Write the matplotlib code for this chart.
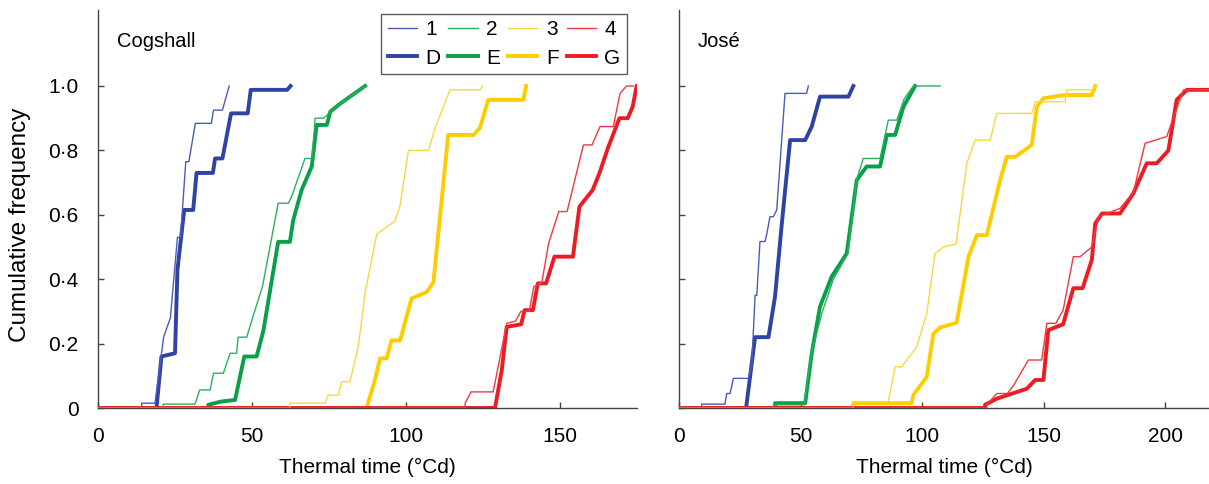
import matplotlib
matplotlib.use("Agg")
import matplotlib.pyplot as plt
from matplotlib.lines import Line2D

plt.rcParams['font.family'] = ['Liberation Sans', 'DejaVu Sans']

# Cogshall: thermal time (°Cd) breakpoints and cumulative frequency
cog_t1 = [0, 14.2, 14.2, 18.5, 21.3, 23.5, 25.8, 26.8, 28.5, 29.5, 31.6, 36.8, 37.5, 40.4, 42.6]
cog_f1 = [0, 0, 0.015, 0.015, 0.22, 0.28, 0.53, 0.53, 0.765, 0.765, 0.884, 0.884, 0.925, 0.925, 1.0]
cog_tD = [0, 19.0, 20.6, 25.0, 25.8, 28.0, 30.9, 32.0, 37.3, 38.0, 40.4, 43.2, 48.6, 49.6, 61.4, 62.5]
cog_fD = [0, 0, 0.16, 0.17, 0.43, 0.615, 0.615, 0.73, 0.73, 0.775, 0.775, 0.915, 0.915, 0.988, 0.988, 1.0]

cog_t2 = [0, 21.2, 21.2, 31.5, 33.0, 36.4, 37.5, 40.7, 42.9, 45.0, 45.5, 48.3, 50.5, 53.4, 58.5, 61.8,
          63.0, 67.2, 69.5, 70.5, 73.2, 78.6, 86.7]
cog_f2 = [0, 0, 0.012, 0.012, 0.056, 0.056, 0.108, 0.108, 0.17, 0.17, 0.22, 0.22, 0.29, 0.377, 0.636,
          0.636, 0.66, 0.775, 0.775, 0.9, 0.9, 0.945, 1.0]
cog_tE = [0, 35.8, 35.8, 40.0, 44.5, 47.5, 51.5, 53.7, 58.5, 62.3, 63.4, 66.1, 69.4, 71.0, 74.3, 75.4,
          78.6, 86.7]
cog_fE = [0, 0, 0.01, 0.02, 0.025, 0.16, 0.16, 0.24, 0.516, 0.516, 0.584, 0.677, 0.75, 0.879, 0.879,
          0.92, 0.945, 1.0]

cog_t3 = [0, 62.3, 62.3, 73.7, 74.8, 78.0, 79.1, 81.8, 84.5, 86.7, 90.5, 96.4, 98.1, 100.8, 107.3,
          109.4, 114.3, 124.0, 124.9]
cog_f3 = [0, 0, 0.015, 0.015, 0.04, 0.04, 0.082, 0.082, 0.19, 0.356, 0.54, 0.58, 0.63, 0.8, 0.8,
          0.869, 0.988, 0.988, 1.0]
cog_tF = [0, 87.2, 89.9, 91.6, 93.7, 95.3, 98.1, 101.8, 106.7, 108.9, 113.7, 121.9, 124.0, 126.7,
          138.1, 139.0]
cog_fF = [0, 0, 0.087, 0.154, 0.154, 0.21, 0.21, 0.34, 0.36, 0.39, 0.848, 0.848, 0.87, 0.957, 0.957, 1.0]

cog_t4 = [0, 119.2, 119.2, 121.1, 128.3, 132.7, 135.6, 137.3, 140.0, 141.5, 144.1, 146.3, 149.6, 152.3,
          157.6, 160.4, 163.0, 167.3, 169.5, 171.6, 173.8]
cog_f4 = [0, 0, 0.015, 0.05, 0.05, 0.263, 0.27, 0.3, 0.3, 0.377, 0.39, 0.511, 0.61, 0.61, 0.817,
          0.817, 0.874, 0.874, 0.977, 1.0, 1.0]
cog_tG = [0, 128.9, 131.1, 132.7, 137.4, 138.5, 141.2, 142.8, 145.5, 148.2, 154.2, 156.3, 160.6, 162.8,
          165.5, 169.3, 172.0, 173.6, 174.9]
cog_fG = [0, 0, 0.118, 0.252, 0.26, 0.304, 0.304, 0.387, 0.387, 0.47, 0.47, 0.625, 0.677, 0.729, 0.806,
          0.9, 0.9, 0.936, 1.0]

# José
jos_t1 = [0, 9.3, 9.3, 18.9, 19.6, 21.0, 22.4, 28.5, 29.9, 31.3, 32.0, 33.3, 35.4, 36.1, 37.4, 38.8,
          40.2, 43.6, 52.5, 53.2]
jos_f1 = [0, 0, 0.012, 0.012, 0.045, 0.045, 0.092, 0.092, 0.13, 0.35, 0.35, 0.517, 0.517, 0.54, 0.594,
          0.594, 0.615, 0.977, 0.977, 1.0]
jos_tD = [0, 27.6, 31.3, 36.8, 39.5, 42.3, 45.7, 51.9, 54.6, 58.0, 69.7, 71.7]
jos_fD = [0, 0, 0.22, 0.22, 0.346, 0.573, 0.832, 0.832, 0.874, 0.967, 0.967, 1.0]

jos_t2 = [0, 38.8, 38.8, 51.5, 54.4, 59.0, 63.5, 69.5, 73.1, 75.8, 82.7, 86.1, 89.6, 92.6, 96.4, 107.4]
jos_f2 = [0, 0, 0.01, 0.01, 0.17, 0.30, 0.40, 0.48, 0.71, 0.775, 0.775, 0.894, 0.894, 0.96, 1.0, 1.0]
jos_tE = [0, 39.5, 39.5, 51.9, 54.6, 58.0, 62.8, 69.0, 73.1, 77.2, 82.7, 85.5, 88.9, 92.3, 97.1]
jos_fE = [0, 0, 0.015, 0.015, 0.17, 0.315, 0.408, 0.48, 0.708, 0.75, 0.75, 0.848, 0.848, 0.935, 1.0]

jos_t3 = [0, 71.7, 71.7, 86.1, 88.9, 91.6, 97.8, 101.9, 105.3, 108.8, 114.0, 118.4, 121.8, 128.0,
          130.7, 145.1, 146.5, 158.8, 159.5, 169.8, 171.2]
jos_f3 = [0, 0, 0.02, 0.02, 0.128, 0.128, 0.19, 0.294, 0.48, 0.5, 0.51, 0.76, 0.832, 0.832, 0.915,
          0.915, 0.951, 0.951, 0.988, 0.988, 1.0]
jos_tF = [0, 71.7, 71.7, 95.7, 96.4, 101.9, 104.6, 107.4, 114.2, 119.1, 122.5, 126.6, 132.1, 134.8,
          138.3, 145.1, 147.2, 149.9, 158.8, 169.8, 171.2]
jos_fF = [0, 0, 0.015, 0.015, 0.04, 0.097, 0.23, 0.25, 0.265, 0.47, 0.537, 0.537, 0.708, 0.78, 0.78,
          0.817, 0.936, 0.962, 0.972, 0.972, 1.0]

jos_t4 = [0, 126.6, 126.6, 130.7, 135.0, 137.6, 143.7, 149.2, 151.3, 155.0, 158.0, 162.2, 165.0, 169.8,
          172.6, 181.4, 186.9, 191.7, 200.6, 207.5, 218.0]
jos_f4 = [0, 0, 0.01, 0.045, 0.045, 0.07, 0.149, 0.149, 0.263, 0.263, 0.304, 0.47, 0.47, 0.5, 0.594,
          0.62, 0.67, 0.822, 0.843, 0.988, 0.988]
jos_tG = [0, 125.9, 125.9, 130.7, 143.1, 146.5, 149.9, 151.9, 158.0, 162.2, 166.0, 169.8, 171.2, 174.0,
          181.4, 186.9, 192.4, 196.5, 201.3, 204.7, 208.9, 218.0]
jos_fG = [0, 0, 0.01, 0.029, 0.06, 0.087, 0.087, 0.242, 0.26, 0.372, 0.372, 0.46, 0.573, 0.604, 0.604,
          0.667, 0.76, 0.76, 0.8, 0.957, 0.988, 0.988]

colors = {'blue': '#2e43a3', 'green': '#0aa04a', 'yellow': '#ffcc00', 'red': '#ec1c24'}
thin_colors = {'blue': '#4a5bb8', 'green': '#2cb05e', 'yellow': '#f7d840', 'red': '#ee3a3f'}
thin_lw = 1.0
thick_lw = 2.8
fs = 15

y_ticks = [0, 0.2, 0.4, 0.6, 0.8, 1.0]
y_labels = ['0', '0·2', '0·4', '0·6', '0·8', '1·0']

cog_series = [(cog_t1, cog_f1, cog_tD, cog_fD, 'blue'),
              (cog_t2, cog_f2, cog_tE, cog_fE, 'green'),
              (cog_t3, cog_f3, cog_tF, cog_fF, 'yellow'),
              (cog_t4, cog_f4, cog_tG, cog_fG, 'red')]
jos_series = [(jos_t1, jos_f1, jos_tD, jos_fD, 'blue'),
              (jos_t2, jos_f2, jos_tE, jos_fE, 'green'),
              (jos_t3, jos_f3, jos_tF, jos_fF, 'yellow'),
              (jos_t4, jos_f4, jos_tG, jos_fG, 'red')]

fig = plt.figure(figsize=(12.09, 4.84), dpi=100)
ax1 = fig.add_axes([98 / 1209, 76 / 484, 539 / 1209, 398 / 484])
ax2 = fig.add_axes([679 / 1209, 76 / 484, 530 / 1209, 398 / 484])


def draw(ax, series, xmax, xticks, name):
    for tt, ft, tk, fk, c in series:
        ax.plot(tk, fk, color=colors[c], lw=thick_lw, zorder=2)
        ax.plot(tt, ft, color=thin_colors[c], lw=thin_lw, zorder=3)
    ax.set_xlim(0, xmax)
    ax.set_ylim(0, 1.236)
    ax.set_xticks(xticks)
    ax.set_yticks(y_ticks)
    for s in ['top', 'right']:
        ax.spines[s].set_visible(False)
    for s in ['left', 'bottom']:
        ax.spines[s].set_color('#444444')
        ax.spines[s].set_linewidth(1.0)
    ax.tick_params(direction='in', length=4, width=1, color='#444444', labelsize=fs, pad=14)
    ax.set_xlabel('Thermal time (°Cd)', fontsize=fs, labelpad=8)
    ax.text(0.035, 0.92, name, transform=ax.transAxes, fontsize=14.5, va='center')


draw(ax1, cog_series, 175, [0, 50, 100, 150], 'Cogshall')
draw(ax2, jos_series, 218, [0, 50, 100, 150, 200], 'José')
ax1.set_yticklabels(y_labels)
ax2.set_yticklabels([])
ax1.set_ylabel('Cumulative frequency', fontsize=17.5)
ax1.yaxis.set_label_coords(-0.124, 0.46)

handles = []
labels = []
for num, let, c in [('1', 'D', 'blue'), ('2', 'E', 'green'), ('3', 'F', 'yellow'), ('4', 'G', 'red')]:
    handles.append(Line2D([], [], color=thin_colors[c], lw=thin_lw))
    labels.append(num)
    handles.append(Line2D([], [], color=colors[c], lw=thick_lw))
    labels.append(let)
leg = ax1.legend(handles, labels, ncol=4, loc='upper right', bbox_to_anchor=(0.981, 0.99),
                 borderaxespad=0, fontsize=fs, frameon=True, fancybox=False, handlelength=1.4,
                 handletextpad=0.4, columnspacing=0.4, labelspacing=0.45, borderpad=0.3)
leg.get_frame().set_edgecolor('#333333')
leg.get_frame().set_linewidth(1.0)

fig.savefig('out.png', dpi=100)
